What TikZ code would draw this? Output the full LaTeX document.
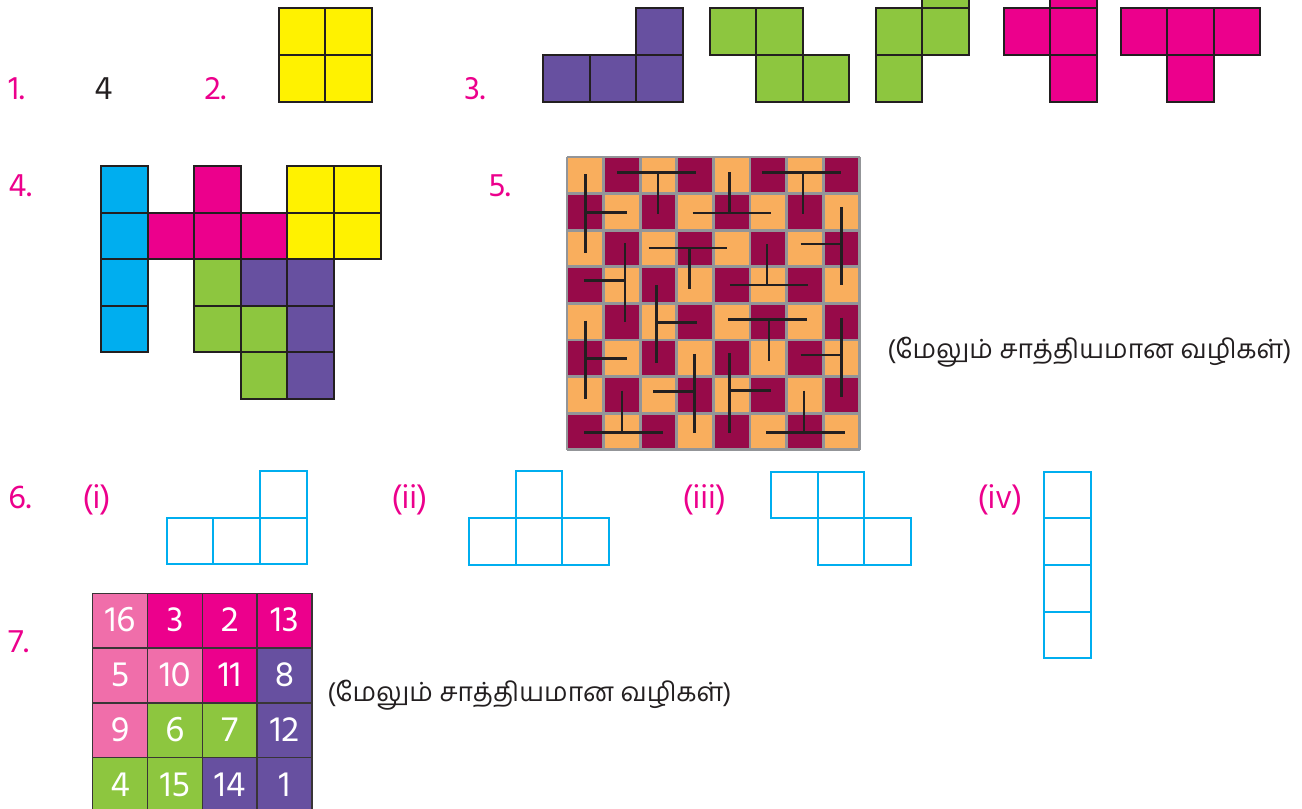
\documentclass[tikz,border=0pt]{standalone}
\usepackage{fontspec}
\setmainfont{Hind Madurai}
\newfontfamily\tamil[Script=Tamil]{Hind Madurai}
\definecolor{mag}{HTML}{EC008C}
\definecolor{lpink}{HTML}{F06EAA}
\definecolor{pyel}{HTML}{FFF200}
\definecolor{ppur}{HTML}{6750A0}
\definecolor{pgrn}{HTML}{8DC63F}
\definecolor{pcyan}{HTML}{00AEEF}
\definecolor{dark}{HTML}{231F20}
\definecolor{borange}{HTML}{F9AE5D}
\definecolor{bmaroon}{HTML}{970A49}
\definecolor{bgrey}{HTML}{939598}
\tikzset{
  piece/.style={draw=dark, line width=1.5pt},
  outline/.style={draw=pcyan, line width=1.5pt},
  lbl/.style={text=mag, anchor=base west, inner sep=0pt, font=\fontsize{25}{30}\selectfont},
  tline/.style={draw=dark, line width=1.9pt},
  num/.style={text=white, font=\fontsize{27}{32}\selectfont, inner sep=0pt, anchor=base, text height=13pt, text depth=0pt},
  tam/.style={text=dark, anchor=west, inner sep=0pt, font=\tamil\fontsize{19.8}{24}\selectfont}
}
\newcommand\sq[4]{\filldraw[piece,fill=#4] (#1,#2) rectangle ++(#3,#3);}
\newcommand\osq[3]{\draw[outline] (#1,#2) rectangle ++(#3,#3);}
\begin{document}
\begin{tikzpicture}[x=0.75pt,y=-0.75pt]
\useasboundingbox (0,0) rectangle (1302,808);
\clip (0,0) rectangle (1302,808);
% labels
\node[lbl] (l1) at (8,99) {1.};
\node[lbl,text=dark] (a1) at (94,99) {4};
\node[lbl] (l2) at (204,99) {2.};
\node[lbl] (l3) at (464,99) {3.};
\node[lbl] (l4) at (8,196) {4.};
\node[lbl] (l5) at (488,196) {5.};
\node[lbl] (l6) at (8,508) {6.};
\node[lbl] (l6i) at (82,508) {(i)};
\node[lbl] (l6ii) at (391,508) {(ii)};
\node[lbl] (l6iii) at (682,508) {(iii)};
\node[lbl] (l6iv) at (977,508) {(iv)};
\node[lbl] (l7) at (8,652) {7.};
% item 2
\sq{278.5}{8.4}{46.6}{pyel}\sq{325.1}{8.4}{46.6}{pyel}
\sq{278.5}{55}{46.6}{pyel}\sq{325.1}{55}{46.6}{pyel}
% item 3
\sq{543}{55}{46.6}{ppur}\sq{589.6}{55}{46.6}{ppur}\sq{636.2}{55}{46.6}{ppur}\sq{636.2}{8.4}{46.6}{ppur}
\sq{709.5}{8.4}{46.6}{pgrn}\sq{756.1}{8.4}{46.6}{pgrn}\sq{756.1}{55}{46.6}{pgrn}\sq{802.7}{55}{46.6}{pgrn}
\sq{875.5}{55}{46.6}{pgrn}\sq{875.5}{8.4}{46.6}{pgrn}\sq{922.1}{8.4}{46.6}{pgrn}\sq{922.1}{-38.2}{46.6}{pgrn}
\sq{1003.5}{8.4}{46.6}{mag}\sq{1050.1}{-38.2}{46.6}{mag}\sq{1050.1}{8.4}{46.6}{mag}\sq{1050.1}{55}{46.6}{mag}
\sq{1120.5}{8.4}{46.6}{mag}\sq{1167.1}{8.4}{46.6}{mag}\sq{1213.7}{8.4}{46.6}{mag}\sq{1167.1}{55}{46.6}{mag}
% item 4
\begin{scope}[shift={(101,166)}]
\foreach \c/\r/\col in {0/0/pcyan,0/1/pcyan,0/2/pcyan,0/3/pcyan,
  2/0/mag,1/1/mag,2/1/mag,3/1/mag,
  4/0/pyel,5/0/pyel,4/1/pyel,5/1/pyel,
  2/2/pgrn,2/3/pgrn,3/3/pgrn,3/4/pgrn,
  3/2/ppur,4/2/ppur,4/3/ppur,4/4/ppur}
  \sq{\c*46.6}{\r*46.6}{46.6}{\col};
\end{scope}
% item 5 board
\begin{scope}[xshift=425.25pt,yshift=-117.75pt,x=27.45pt,y=-27.45pt]
\foreach \i in {0,...,7}
  \foreach \j in {0,...,7}{
    \pgfmathparse{mod(\i+\j,2)==0 ? "borange" : "bmaroon"}
    \fill[\pgfmathresult] (\i,\j) rectangle ++(1,1);
  }
\foreach \k in {0,...,8}{
  \draw[bgrey, line width=2pt, line cap=square] (\k,0) -- (\k,8);
  \draw[bgrey, line width=2pt, line cap=square] (0,\k) -- (8,\k);
}
\draw[tline] (0.5,0.47)--(0.5,2.62) (0.5,1.52)--(1.64,1.52);
\draw[tline] (1.36,0.43)--(3.52,0.43) (2.48,0.43)--(2.48,1.55);
\draw[tline] (3.43,1.53)--(5.56,1.53) (4.44,0.41)--(4.44,1.53);
\draw[tline] (5.34,0.43)--(7.48,0.43) (6.45,0.43)--(6.45,1.55);
\draw[tline] (7.5,1.36)--(7.5,3.5) (6.38,2.38)--(7.5,2.38);
\draw[tline] (1.59,2.36)--(1.59,4.5) (0.47,3.38)--(1.59,3.38);
\draw[tline] (2.23,2.48)--(4.36,2.48) (3.35,2.48)--(3.35,3.6);
\draw[tline] (5.47,2.38)--(5.47,3.5) (4.45,3.5)--(6.59,3.5);
\draw[tline] (2.45,3.5)--(2.45,5.64) (2.45,4.52)--(3.56,4.52);
\draw[tline] (4.41,4.44)--(6.55,4.44) (5.52,4.44)--(5.52,5.56);
\draw[tline] (7.5,4.39)--(7.5,6.55) (6.38,5.41)--(7.5,5.41);
\draw[tline] (0.5,4.47)--(0.5,6.62) (0.5,5.5)--(1.64,5.5);
\draw[tline] (3.48,5.38)--(3.48,7.55) (2.36,6.41)--(3.48,6.41);
\draw[tline] (4.44,5.36)--(4.44,7.53) (4.44,6.38)--(5.56,6.38);
\draw[tline] (0.47,7.52)--(2.62,7.52) (1.5,6.38)--(1.5,7.52);
\draw[tline] (5.45,7.52)--(7.59,7.52) (6.47,6.38)--(6.47,7.52);
\end{scope}
\node[tam] (t1) at (887,352) {(மேலும் சாத்தியமான வழிகள்)};
% item 6
\osq{166.7}{517.7}{46.7}\osq{213.4}{517.7}{46.7}\osq{260.1}{517.7}{46.7}\osq{260.1}{471}{46.7}
\osq{469}{518}{46.7}\osq{515.7}{518}{46.7}\osq{562.4}{518}{46.7}\osq{515.7}{471.3}{46.7}
\osq{771}{471.5}{46.7}\osq{817.7}{471.5}{46.7}\osq{817.7}{518.2}{46.7}\osq{864.4}{518.2}{46.7}
\osq{1044}{471.5}{46.7}\osq{1044}{518.2}{46.7}\osq{1044}{564.9}{46.7}\osq{1044}{611.6}{46.7}
% item 7
\begin{scope}[shift={(92.7,593.3)}]
\foreach \c/\r/\col/\n in {0/0/lpink/16,1/0/mag/3,2/0/mag/2,3/0/mag/13,
  0/1/lpink/5,1/1/lpink/10,2/1/mag/11,3/1/ppur/8,
  0/2/lpink/9,1/2/pgrn/6,2/2/pgrn/7,3/2/ppur/12,
  0/3/pgrn/4,1/3/pgrn/15,2/3/ppur/14,3/3/ppur/1}{
  \filldraw[fill=\col, draw=dark!90, line width=1.1pt] (\c*54.8,\r*54.8) rectangle ++(54.8,54.8);
  \node[num] (n\n) at (\c*54.8+27.4,\r*54.8+38.5) {\n};
}
\end{scope}
\node[tam] (t2) at (327,695) {(மேலும் சாத்தியமான வழிகள்)};
\end{tikzpicture}
\end{document}
